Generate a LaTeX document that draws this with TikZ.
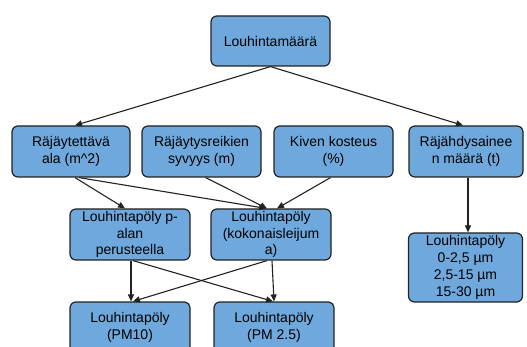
\documentclass[tikz,border=0pt]{standalone}
\usepackage{fontspec}
\setmainfont{Liberation Sans}
\usetikzlibrary{arrows.meta}
\definecolor{boxfill}{HTML}{6FA8DC}
\definecolor{boxline}{HTML}{222222}
\tikzset{
  blockbox/.style={draw=boxline, fill=boxfill, line width=1.2pt, rounded corners=6pt,
    align=center, inner sep=0pt, minimum height=51pt,
    font=\fontsize{14}{16.8}\selectfont},
  link/.style={draw=boxline, line width=1.1pt, -{Triangle[length=7pt,width=6pt]}}
}
\begin{document}
\begin{tikzpicture}[x=1pt,y=-1pt]
\clip (0,0) rectangle (527,347);
\useasboundingbox (0,0) rectangle (527,347);
\fill[white] (0,0) rectangle (527,347);

\node[blockbox, minimum width=119pt, minimum height=50pt] (top) at (270.5,41) {Louhintamäärä};

\node[blockbox, minimum width=118pt] (area) at (71,151.5) {Räjäytettävä\\ala (m\^{}2)};
\node[blockbox, minimum width=119pt] (depth) at (201.5,151.5) {Räjäytysreikien\\syvyys (m)};
\node[blockbox, minimum width=119pt] (moist) at (333.5,151.5) {Kiven kosteus\\(\%)};
\node[blockbox, minimum width=114pt] (expl) at (466,151.5) {Räjähdysainee\\n määrä (t)};

\node[blockbox, minimum width=120pt] (pala) at (130,234.5) {Louhintapöly p-\\alan\\perusteella};
\node[blockbox, minimum width=120pt] (total) at (271,234.5) {Louhintapöly\\(kokonaisleijum\\a)};
\node[blockbox, minimum width=114pt, minimum height=69pt] (sizes) at (465.5,267.5) {Louhintapöly\\0-2,5 µm\\2,5-15 µm\\15-30 µm};

\node[blockbox, minimum width=120pt] (pm10) at (130,327.5) {Louhintapöly\\(PM10)};
\node[blockbox, minimum width=120pt] (pm25) at (274,327.5) {Louhintapöly\\(PM 2.5)};

\draw[link] (top.south) -- ([xshift=4pt]area.north);
\draw[link] (top.south) -- ([xshift=-3pt]expl.north);

\draw[link] ([xshift=4pt]area.south) -- ([xshift=-5pt]pala.north);
\draw[link] ([xshift=8pt]area.south) -- ([xshift=-5pt]total.north);
\draw[link] ([xshift=4pt]depth.south) -- ([xshift=-4pt]total.north);
\draw[link] ([xshift=-3pt]moist.south) -- ([xshift=6pt]total.north);
\draw[link] ([xshift=2pt]expl.south) -- ([xshift=2.5pt]sizes.north);

\draw[link] ([xshift=1pt]pala.south) -- ([xshift=1pt]pm10.north);
\draw[link] ([xshift=3pt]pala.south) -- ([xshift=-1pt]pm25.north);
\draw[link] ([xshift=-4pt]total.south) -- ([xshift=3pt]pm10.north);
\draw[link] ([xshift=1pt]total.south) -- ([xshift=0pt]pm25.north);
\end{tikzpicture}
\end{document}
